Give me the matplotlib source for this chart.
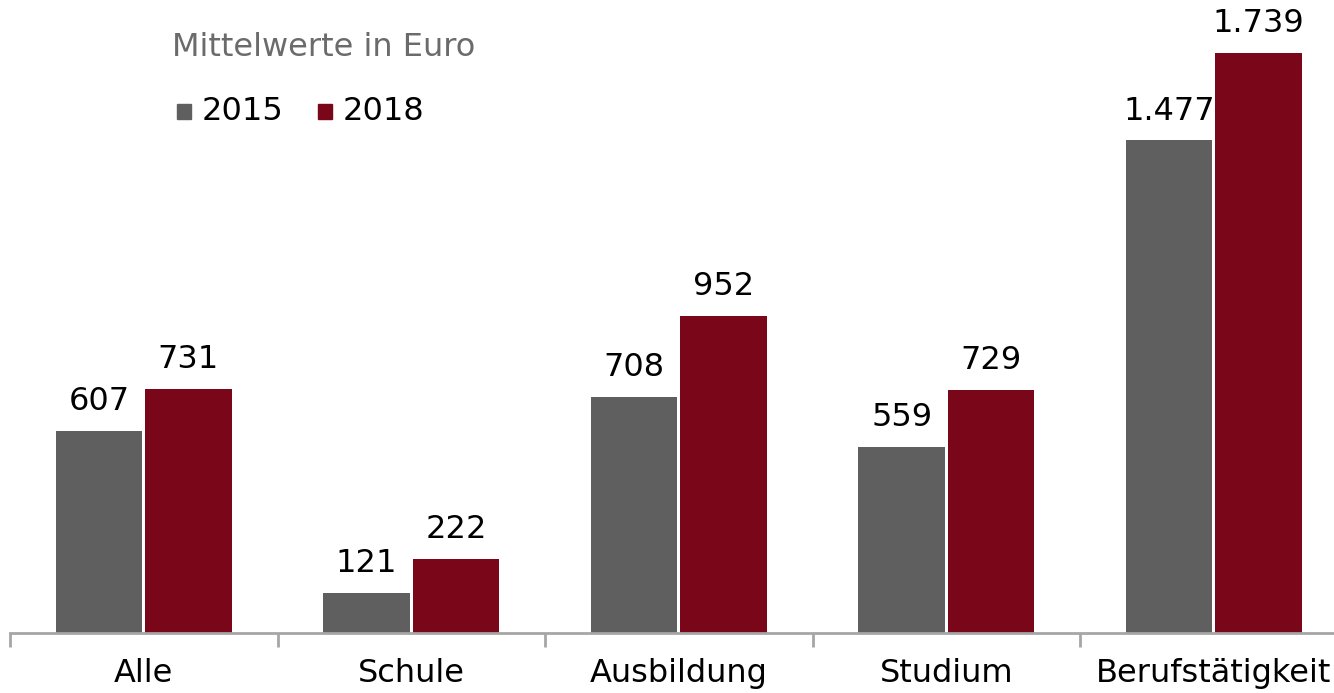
import numpy as np
import matplotlib.pyplot as plt
from matplotlib.patches import Rectangle

# data
categories = ['Alle', 'Schule', 'Ausbildung', 'Studium', 'Berufstätigkeit']
years = ['2015', '2018']
values_2015 = [607, 121, 708, 559, 1477]
values_2018 = [731, 222, 952, 729, 1739]

gray = '#5f5f5f'
red = '#7a0719'

plt.rcParams['font.family'] = ['DejaVu Sans']

fig = plt.figure(figsize=(13.34, 6.93), dpi=100)
ax = fig.add_axes([10 / 1334, 60 / 693, 1324 / 1334, 633 / 693])

x = np.arange(len(categories))
w = 0.324
off = 0.167
b1 = ax.bar(x - off, values_2015, w, color=gray)
b2 = ax.bar(x + off, values_2018, w, color=red)


def fmt(v):
    return f'{v:,}'.replace(',', '.')


for bars, vals in [(b1, values_2015), (b2, values_2018)]:
    for rect, v in zip(bars, vals):
        ax.annotate(fmt(v), (rect.get_x() + rect.get_width() / 2, v),
                    xytext=(0, 10), textcoords='offset points',
                    ha='center', va='bottom', fontsize=23, color='black')

ax.set_xlim(-0.5, -0.5 + 1324 / 267.5)
ax.set_ylim(0, 633 / 0.3335)

for s in ['top', 'right', 'left']:
    ax.spines[s].set_visible(False)
ax.spines['bottom'].set_color('#a6a6a6')
ax.spines['bottom'].set_linewidth(2)
ax.set_yticks([])

ax.set_xticks(np.arange(-0.5, 4.5, 1.0))
ax.set_xticklabels([])
ax.set_xticks(x, minor=True)
ax.set_xticklabels(categories, minor=True, fontsize=23)
ax.tick_params(axis='x', which='major', length=10, width=2, color='#a6a6a6', direction='out')
ax.tick_params(axis='x', which='minor', length=0, pad=18)

# title and legend
fig.text(172 / 1334, 1 - 48 / 693, 'Mittelwerte in Euro', fontsize=23,
         color='#6b6b6b', ha='left', va='center')
for px, col, lab in [(177, gray, years[0]), (318, red, years[1])]:
    fig.patches.append(Rectangle((px / 1334, 1 - 119 / 693), 14 / 1334, 15 / 693,
                                 transform=fig.transFigure, color=col))
    fig.text((px + 25) / 1334, 1 - 111 / 693, lab, fontsize=23,
             color='black', ha='left', va='center')

fig.savefig('out.png', dpi=100)
